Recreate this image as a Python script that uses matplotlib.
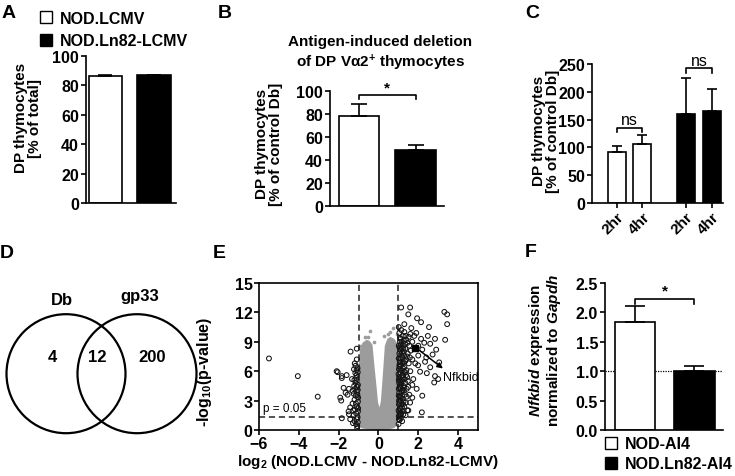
import matplotlib
matplotlib.use('Agg')
import matplotlib.pyplot as plt
from matplotlib.patches import Rectangle, Circle

plt.rcParams['font.family'] = ['Liberation Sans', 'DejaVu Sans']
plt.rcParams['font.weight'] = 'bold'
plt.rcParams['mathtext.fontset'] = 'custom'
plt.rcParams['mathtext.rm'] = 'Liberation Sans:bold'
plt.rcParams['mathtext.bf'] = 'Liberation Sans:bold'
plt.rcParams['mathtext.it'] = 'Liberation Sans:bold:italic'
plt.rcParams['mathtext.default'] = 'rm'

# ---- data ----
# A
a_groups = ['NOD.LCMV', 'NOD.Ln82-LCMV']
a_mean = [86.5, 86.8]
a_err = [0.6, 0.5]
# B
b_mean = [78.5, 48.5]
b_err = [10.0, 4.5]
# C
c_labels = ['2hr', '4hr', '2hr', '4hr']
c_mean = [92, 107, 160, 165]
c_err = [11, 15, 64, 40]
# D
venn_sets = ['Db', 'gp33']
venn_counts = [4, 12, 200]
# F
f_groups = ['NOD-AI4', 'NOD.Ln82-AI4']
f_mean = [1.83, 1.01]
f_err = [0.28, 0.07]

# E volcano: outline of the dense grey (non significant) cloud
cloud_x = [-0.9, -0.97, -1.0, -1.0, -0.98, -0.92, -0.8, -0.6, -0.45, -0.3, -0.2,
           -0.1, -0.02, 0.05, 0.12, 0.18, 0.25, 0.32, 0.45, 0.6, 0.8, 0.95, 1.0,
           1.0, 1.0, 0.95, 0.8, 0.5, 0.1, -0.3, -0.6]
cloud_y = [0.2, 1.0, 2.5, 5.0, 7.0, 8.3, 8.9, 9.2, 9.1, 8.7, 6.5,
           4.5, 2.8, 2.3, 2.9, 4.5, 6.5, 8.6, 9.3, 9.5, 9.3, 8.8, 7.0,
           4.0, 1.5, 0.6, 0.2, 0.05, 0.0, 0.03, 0.08]
grey_pts = [(-0.42, 10.1), (-0.7, 9.5), (0.58, 10.0), (0.92, 9.8), (-0.95, 8.6),
            (0.3, 9.6), (-0.2, 9.0), (0.75, 10.4), (-0.55, 9.5), (0.5, 9.8)]
left_pts = [(-5.5, 7.3), (-4.05, 5.5), (-3.05, 3.4), (-2.1, 6.0), (-2.05, 5.9),
            (-1.84, 5.5), (-1.84, 5.3), (-1.75, 4.3), (-1.92, 3.3), (-1.87, 3.0),
            (-1.65, 3.8), (-1.55, 3.6), (-1.48, 4.2), (-1.4, 8.0), (-1.09, 8.3),
            (-1.33, 5.2), (-1.23, 6.2), (-1.15, 6.55), (-1.42, 2.3), (-1.48, 1.6),
            (-1.84, 1.2), (-1.42, 1.1), (-1.25, 1.5), (-1.5, 1.9), (-1.3, 2.7),
            (-1.2, 3.1), (-1.15, 4.8), (-1.1, 5.6), (-1.05, 6.3), (-1.2, 0.9),
            (-1.12, 0.6), (-1.06, 0.4), (-1.18, 2.1), (-1.1, 2.4), (-1.03, 2.9),
            (-1.14, 3.5), (-1.08, 3.9), (-1.22, 4.5), (-1.04, 4.1), (-1.1, 5.0),
            (-1.16, 5.8), (-1.05, 1.3), (-1.28, 0.7), (-1.12, 1.7), (-1.07, 0.2),
            (-1.02, 3.3), (-1.19, 6.8), (-1.09, 7.2), (-1.6, 5.6), (-1.3, 4.0),
            (-1.04, 0.8), (-1.09, 1.1), (-1.03, 1.9), (-1.13, 2.7), (-1.06, 3.6),
            (-1.17, 4.2), (-1.03, 4.6), (-1.12, 5.3), (-1.04, 5.9), (-1.1, 6.1),
            (-1.24, 3.7), (-1.27, 2.0), (-1.02, 2.2), (-1.08, 4.4), (-1.21, 5.1)]
right_pts = [(1.02, 1.4), (1.05, 1.8), (1.08, 2.2), (1.03, 2.6), (1.12, 3.0),
             (1.06, 3.4), (1.15, 3.8), (1.02, 4.2), (1.09, 4.6), (1.18, 5.0),
             (1.04, 5.4), (1.11, 5.8), (1.03, 6.2), (1.14, 6.6), (1.07, 7.0),
             (1.2, 7.4), (1.05, 7.8), (1.1, 8.2), (1.02, 8.6), (1.16, 9.0),
             (1.08, 9.4), (1.25, 1.6), (1.3, 2.4), (1.22, 3.2), (1.28, 4.0),
             (1.35, 4.8), (1.24, 5.6), (1.3, 6.4), (1.38, 7.2), (1.27, 8.0),
             (1.33, 8.8), (1.22, 9.6), (1.45, 2.0), (1.42, 3.4), (1.5, 4.4),
             (1.44, 5.4), (1.52, 6.8), (1.47, 7.8), (1.55, 8.6), (1.4, 9.2),
             (1.01, 0.6), (1.06, 1.0), (1.12, 1.2), (1.2, 1.9), (1.16, 2.6),
             (1.26, 2.9), (1.09, 3.1), (1.19, 3.5), (1.32, 3.6), (1.04, 3.8),
             (1.13, 4.3), (1.25, 4.5), (1.07, 5.0), (1.21, 5.3), (1.33, 5.9),
             (1.16, 6.1), (1.26, 6.9), (1.1, 7.3), (1.18, 7.9), (1.35, 8.3),
             (1.13, 8.7), (1.28, 9.1), (1.05, 9.9), (1.15, 10.2), (1.3, 10.0),
             (1.02, 10.5), (1.4, 6.1), (1.48, 5.0), (1.37, 2.8), (1.58, 7.4),
             (1.62, 8.1), (1.46, 8.9), (1.52, 9.5), (1.03, 3.0), (1.11, 2.0),
             (1.21, 4.1), (1.06, 6.7), (1.23, 6.3), (1.09, 8.0), (1.17, 8.4),
             (1.01, 5.7), (1.14, 5.1), (1.29, 7.6), (1.04, 4.8), (1.1, 1.6),
             (1.36, 1.5), (1.19, 0.9), (1.42, 4.2), (1.31, 5.2), (1.08, 9.0),
             (1.03, 1.1), (1.07, 1.5), (1.14, 1.7), (1.01, 2.0), (1.18, 2.3),
             (1.06, 2.8), (1.23, 2.6), (1.11, 3.3), (1.02, 3.5), (1.17, 4.0),
             (1.06, 4.4), (1.27, 4.3), (1.13, 4.8), (1.02, 5.1), (1.19, 5.6),
             (1.08, 5.9), (1.27, 6.0), (1.05, 6.5), (1.2, 6.8), (1.1, 6.9),
             (1.02, 7.3), (1.15, 7.6), (1.34, 7.0), (1.06, 8.4), (1.22, 8.6),
             (1.12, 9.3), (1.25, 8.3), (1.36, 9.6), (1.43, 7.5), (1.39, 5.6),
             (1.14, 12.5), (1.59, 12.5), (1.5, 11.8), (1.94, 11.4), (2.14, 11.0),
             (2.54, 10.5), (3.31, 12.05), (3.45, 11.8), (3.45, 10.8), (3.35, 9.2),
             (2.48, 9.6), (2.84, 9.3), (2.14, 9.3), (2.72, 7.7), (2.34, 6.96),
             (3.05, 6.9), (2.43, 5.8), (2.84, 5.5), (2.8, 4.85), (1.75, 5.2),
             (1.92, 4.2), (1.59, 2.8), (2.18, 1.8), (1.85, 6.8), (1.99, 6.6),
             (2.0, 8.6), (2.2, 8.2), (2.3, 8.9), (1.7, 9.0), (1.8, 9.6),
             (1.6, 9.8), (1.9, 9.9), (2.6, 8.8), (2.0, 7.6), (2.4, 7.4),
             (1.7, 7.2), (2.6, 6.4), (3.0, 5.2), (2.9, 8.2), (1.65, 10.4),
             (1.3, 10.8), (1.6, 6.0), (1.7, 4.6), (1.55, 3.6), (1.7, 3.3),
             (2.2, 3.5), (1.5, 2.0), (2.09, 5.95)]
nfkbid = (1.85, 8.4)

LW = 1.2


def bar_axes(rect, xlim, ylim, yticks):
    ax = fig.add_axes(rect)
    ax.set_xlim(xlim)
    ax.set_ylim(ylim)
    ax.set_yticks(yticks)
    for s in ['top', 'right']:
        ax.spines[s].set_visible(False)
    for s in ['left', 'bottom']:
        ax.spines[s].set_linewidth(LW)
    ax.tick_params(axis='y', direction='out', length=3.5, width=LW, labelsize=11.5, pad=1.5)
    ax.tick_params(axis='x', bottom=False, labelbottom=False)
    return ax


def bracket(ax, x0, x1, y, drop, label, size):
    ax.plot([x0, x0, x1, x1], [y - drop, y, y, y - drop], color='black', lw=LW, clip_on=False)
    ax.text((x0 + x1) / 2, y + drop * 0.2, label, ha='center', va='bottom',
            fontsize=size, fontweight='normal' if label == 'ns' else 'bold')


fig = plt.figure(figsize=(7.35, 4.77), dpi=100)

# ---- A ----
ax = bar_axes([86 / 735, 1 - 204 / 477, 90 / 735, 147 / 477], (-0.402, 1.454), (0, 100), range(0, 101, 20))
ax.bar([0, 1], a_mean, width=0.69, color=['white', 'black'], edgecolor='black', linewidth=LW)
ax.errorbar([0, 1], a_mean, yerr=[[0, 0], a_err], fmt='none', ecolor='black', elinewidth=LW, capsize=5, capthick=LW)

# ---- B ----
ax = bar_axes([330 / 735, 1 - 207 / 477, 114 / 735, 115 / 477], (-0.513, 1.504), (0, 100), range(0, 101, 20))
ax.bar([0, 1], b_mean, width=0.71, color=['white', 'black'], edgecolor='black', linewidth=LW)
ax.errorbar([0, 1], b_mean, yerr=[[0, 0], b_err], fmt='none', ecolor='black', elinewidth=LW, capsize=6, capthick=LW)
bracket(ax, 0, 1, 96.5, 3.5, '*', 11)

# ---- C ----
c_x = [0, 1, 2.706, 3.725]
ax = bar_axes([592 / 735, 1 - 204 / 477, 131 / 735, 139 / 477], (-0.98, 4.157), (0, 250), range(0, 251, 50))
ax.bar(c_x, c_mean, width=0.706, color=['white', 'white', 'black', 'black'], edgecolor='black', linewidth=LW)
ax.errorbar(c_x, c_mean, yerr=[[0] * 4, c_err], fmt='none', ecolor='black', elinewidth=LW, capsize=3.8, capthick=LW)
ax.tick_params(axis='x', bottom=True, labelbottom=True, direction='out', length=3.5, width=LW, labelsize=11, pad=1)
ax.set_xticks(c_x)
ax.set_xticklabels(c_labels, rotation=45, ha='right', rotation_mode='anchor', fontweight='bold')
bracket(ax, c_x[0], c_x[1], 135, 7, 'ns', 11.5)
bracket(ax, c_x[2], c_x[3], 242, 8, 'ns', 11.5)

# ---- E ----
ax = fig.add_axes([259 / 735, 1 - 431 / 477, 219 / 735, 147 / 477])
ax.set_xlim(-6, 5)
ax.set_ylim(0, 15)
ax.set_xticks(range(-6, 5, 2))
ax.set_yticks(range(0, 16, 3))
for s in ax.spines.values():
    s.set_linewidth(LW)
ax.tick_params(direction='out', length=3.5, width=LW, labelsize=11.5, pad=1)
ax.axhline(1.3, color='#222222', lw=1.1, ls=(0, (4, 2.5)), zorder=1)
ax.fill(cloud_x, cloud_y, color='#9c9c9c', lw=0, zorder=2)
ax.scatter([p[0] for p in grey_pts], [p[1] for p in grey_pts], s=7, color='#9c9c9c', lw=0, zorder=2)
for xv in (-1, 1):
    ax.axvline(xv, color='#222222', lw=1.1, ls=(0, (4, 2.5)), zorder=2.5)
pts = left_pts + right_pts
ax.scatter([p[0] for p in pts], [p[1] for p in pts], s=12, facecolors='none',
           edgecolors='#151515', linewidths=0.75, zorder=3)
ax.scatter([nfkbid[0]], [nfkbid[1]], s=24, marker='s', color='black', zorder=4)
ax.annotate('', xy=(3.35, 6.1), xytext=(nfkbid[0] + 0.1, nfkbid[1] - 0.1),
            arrowprops=dict(arrowstyle='-|>', color='black', lw=1.1, mutation_scale=8), zorder=4)
ax.text(3.23, 5.4, 'Nfkbid', fontsize=9, fontweight='normal', va='center', ha='left')
ax.text(-5.8, 1.95, 'p = 0.05', fontsize=8.5, fontweight='normal', va='baseline', ha='left')

# ---- F ----
ax = bar_axes([605 / 735, 1 - 431 / 477, 118 / 735, 147 / 477], (-0.504, 1.479), (0, 2.5),
              [0, 0.5, 1.0, 1.5, 2.0, 2.5])
ax.set_yticklabels(['0.0', '0.5', '1.0', '1.5', '2.0', '2.5'])
ax.axhline(1.0, color='black', lw=0.9, ls=(0, (1, 1)), zorder=0.5)
ax.bar([0, 1], f_mean, width=0.68, color=['white', 'black'], edgecolor='black', linewidth=LW, zorder=2)
ax.errorbar([0, 1], f_mean, yerr=[[0, 0], f_err], fmt='none', ecolor='black', elinewidth=LW, capsize=7, capthick=LW)
bracket(ax, 0, 1, 2.23, 0.08, '*', 11)

# ---- overlay: panel letters, legends, axis titles, venn ----
ov = fig.add_axes([0, 0, 1, 1])
ov.set_xlim(0, 735)
ov.set_ylim(477, 0)
ov.axis('off')

for lab, (x, y) in zip('ABCDEF', [(2, 18), (218, 18), (525, 18), (0, 258), (213, 258), (525, 257)]):
    ov.text(x, y, lab, fontsize=14, fontweight='bold', va='baseline', ha='left')

# legend A
for i, (g, c) in enumerate(zip(a_groups, ['white', 'black'])):
    ov.add_patch(Rectangle((40, 12 + 23 * i), 12, 12, facecolor=c, edgecolor='black', lw=1.0))
    ov.text(60, 23.5 + 23 * i, g, fontsize=11.5, fontweight='bold', va='baseline')
# legend F
for i, (g, c) in enumerate(zip(f_groups, ['white', 'black'])):
    ov.add_patch(Rectangle((605, 437.5 + 20 * i), 12, 12, facecolor=c, edgecolor='black', lw=1.0))
    ov.text(625, 449 + 20 * i, g, fontsize=11.5, fontweight='bold', va='baseline')

# y labels
ov.text(28, 118, 'DP thymocytes\n[% of total]', rotation=90, fontsize=11, ha='center', va='center',
        multialignment='center', linespacing=1.05)
ov.text(269, 144, 'DP thymocytes\n[% of control Db]', rotation=90, fontsize=11, ha='center', va='center',
        multialignment='center', linespacing=1.05)
ov.text(546, 131, 'DP thymocytes\n[% of control Db]', rotation=90, fontsize=11, ha='center', va='center',
        multialignment='center', linespacing=1.05)
ov.text(205, 372, '-log$_{10}$(p-value)', rotation=90, fontsize=11.5, ha='center', va='center')
ov.text(545, 350, '$\\mathit{Nfkbid}$ expression\nnormalized to $\\mathit{Gapdh}$', rotation=90,
        fontsize=11, ha='center', va='center', multialignment='center', linespacing=1.05)
ov.text(368, 466, 'log$_{2}$ (NOD.LCMV - NOD.Ln82-LCMV)', fontsize=11, ha='center', va='baseline')

# B title
ov.text(380, 46, 'Antigen-induced deletion', fontsize=11, ha='center', va='baseline')
ov.text(381, 67, 'of DP V\u03b12$^{+}$ thymocytes', fontsize=11, ha='center', va='baseline')

# venn
ov.add_patch(Circle((66, 374.7), 59.5, fill=False, edgecolor='black', lw=1.6))
ov.add_patch(Circle((137, 374.7), 59.5, fill=False, edgecolor='black', lw=1.6))
ov.text(62, 305, venn_sets[0], fontsize=12, ha='center', va='baseline')
ov.text(140, 301, venn_sets[1], fontsize=12, ha='center', va='baseline')
for n, x in zip(venn_counts, [52, 97.5, 152.5]):
    ov.text(x, 362, str(n), fontsize=12, ha='center', va='baseline')

fig.savefig('out.png', dpi=100)
